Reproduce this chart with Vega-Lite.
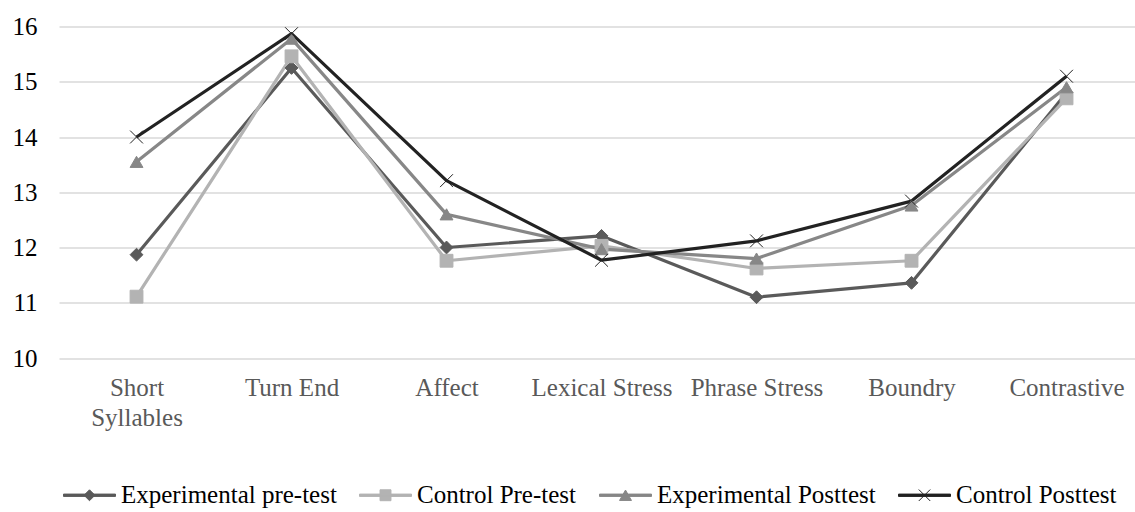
{
  "$schema": "https://vega.github.io/schema/vega-lite/v6.json",
  "width": 1076,
  "height": 331.5,
  "autosize": {"type": "none"},
  "padding": {"left": 59, "top": 26.5, "right": 0, "bottom": 154},
  "background": "white",
  "config": {"view": {"stroke": null}},
  "data": {"values": [
    {"cat": "Short Syllables", "idx": 1, "series": "Experimental pre-test", "v": 11.87},
    {"cat": "Turn End", "idx": 2, "series": "Experimental pre-test", "v": 15.25},
    {"cat": "Affect", "idx": 3, "series": "Experimental pre-test", "v": 12.0},
    {"cat": "Lexical Stress", "idx": 4, "series": "Experimental pre-test", "v": 12.21},
    {"cat": "Phrase Stress", "idx": 5, "series": "Experimental pre-test", "v": 11.1},
    {"cat": "Boundry", "idx": 6, "series": "Experimental pre-test", "v": 11.36},
    {"cat": "Contrastive", "idx": 7, "series": "Experimental pre-test", "v": 14.8},
    {"cat": "Short Syllables", "idx": 1, "series": "Control Pre-test", "v": 11.11},
    {"cat": "Turn End", "idx": 2, "series": "Control Pre-test", "v": 15.46},
    {"cat": "Affect", "idx": 3, "series": "Control Pre-test", "v": 11.76},
    {"cat": "Lexical Stress", "idx": 4, "series": "Control Pre-test", "v": 12.03},
    {"cat": "Phrase Stress", "idx": 5, "series": "Control Pre-test", "v": 11.62},
    {"cat": "Boundry", "idx": 6, "series": "Control Pre-test", "v": 11.76},
    {"cat": "Contrastive", "idx": 7, "series": "Control Pre-test", "v": 14.7},
    {"cat": "Short Syllables", "idx": 1, "series": "Experimental Posttest", "v": 13.55},
    {"cat": "Turn End", "idx": 2, "series": "Experimental Posttest", "v": 15.78},
    {"cat": "Affect", "idx": 3, "series": "Experimental Posttest", "v": 12.6},
    {"cat": "Lexical Stress", "idx": 4, "series": "Experimental Posttest", "v": 11.97},
    {"cat": "Phrase Stress", "idx": 5, "series": "Experimental Posttest", "v": 11.8},
    {"cat": "Boundry", "idx": 6, "series": "Experimental Posttest", "v": 12.76},
    {"cat": "Contrastive", "idx": 7, "series": "Experimental Posttest", "v": 14.9},
    {"cat": "Short Syllables", "idx": 1, "series": "Control Posttest", "v": 14.0},
    {"cat": "Turn End", "idx": 2, "series": "Control Posttest", "v": 15.87},
    {"cat": "Affect", "idx": 3, "series": "Control Posttest", "v": 13.21},
    {"cat": "Lexical Stress", "idx": 4, "series": "Control Posttest", "v": 11.77},
    {"cat": "Phrase Stress", "idx": 5, "series": "Control Posttest", "v": 12.12},
    {"cat": "Boundry", "idx": 6, "series": "Control Posttest", "v": 12.84},
    {"cat": "Contrastive", "idx": 7, "series": "Control Posttest", "v": 15.1}
  ]},
  "encoding": {
    "x": {
      "field": "cat", "type": "nominal",
      "scale": {"type": "point", "domain": ["Short Syllables", "Turn End", "Affect", "Lexical Stress", "Phrase Stress", "Boundry", "Contrastive"], "padding": 0.471, "align": 0.531},
      "axis": {
        "title": null, "domain": false, "ticks": false, "grid": false, "labelAngle": 0,
        "labelFont": "Liberation Serif", "labelFontSize": 25, "labelColor": "#595959",
        "labelPadding": 17, "labelLineHeight": 30, "labelLimit": 300,
        "labelExpr": "datum.label == 'Short Syllables' ? ['Short', 'Syllables'] : datum.label"
      }
    },
    "y": {
      "field": "v", "type": "quantitative",
      "scale": {"domain": [10, 16], "nice": false, "zero": false},
      "axis": {
        "title": null, "domain": false, "ticks": false, "values": [10, 11, 12, 13, 14, 15, 16],
        "grid": true, "gridColor": "#D9D9D9", "gridWidth": 1.5,
        "labelFont": "Liberation Serif", "labelFontSize": 25, "labelColor": "#000000",
        "labelPadding": 22
      }
    }
  },
  "resolve": {"scale": {"color": "independent", "stroke": "independent", "shape": "independent"}},
  "layer": [
    {
      "mark": {"type": "line", "strokeWidth": 3.2, "strokeJoin": "round"},
      "encoding": {
        "color": {
          "field": "series", "type": "nominal", "legend": null,
          "scale": {"domain": ["Experimental pre-test", "Control Pre-test", "Experimental Posttest", "Control Posttest"], "range": ["#5A5A5A", "#B3B3B3", "#878787", "#222222"]}
        },
        "order": {"field": "idx", "type": "quantitative"}
      }
    },
    {
      "mark": {"type": "point", "filled": true, "opacity": 1, "strokeWidth": 1, "size": 165},
      "encoding": {
        "color": {
          "field": "series", "type": "nominal", "legend": null,
          "scale": {"domain": ["Experimental pre-test", "Control Pre-test", "Experimental Posttest", "Control Posttest"], "range": ["#5A5A5A", "#B3B3B3", "#878787", "#222222"]}
        },
        "stroke": {
          "field": "series", "type": "nominal", "legend": null,
          "scale": {"domain": ["Experimental pre-test", "Control Pre-test", "Experimental Posttest", "Control Posttest"], "range": ["#5A5A5A", "#B3B3B3", "#878787", "#222222"]}
        },
        "shape": {
          "field": "series", "type": "nominal", "legend": null,
          "scale": {"domain": ["Experimental pre-test", "Control Pre-test", "Experimental Posttest", "Control Posttest"], "range": ["diamond", "square", "triangle-up", "M-1,-1L1,1M-1,1L1,-1"]}
        }
      }
    },
    {
      "mark": {"type": "point", "filled": true, "opacity": 1, "strokeWidth": 1, "size": 0},
      "encoding": {
        "color": {
          "field": "series", "type": "nominal",
          "scale": {"domain": ["Experimental pre-test", "Control Pre-test", "Experimental Posttest", "Control Posttest"], "range": ["#5A5A5A", "#B3B3B3", "#878787", "#222222"]},
          "legend": {
            "title": null, "orient": "none", "legendX": 4, "legendY": 442, "direction": "horizontal", "columns": 4,
            "labelFont": "Liberation Serif", "labelFontSize": 25, "labelColor": "#000000", "labelOffset": 5, "labelLimit": 400,
            "symbolSize": 2704, "symbolStrokeWidth": 1, "symbolOpacity": 1, "columnPadding": 20, "padding": 0
          }
        },
        "stroke": {
          "field": "series", "type": "nominal",
          "scale": {"domain": ["Experimental pre-test", "Control Pre-test", "Experimental Posttest", "Control Posttest"], "range": ["#5A5A5A", "#B3B3B3", "#878787", "#222222"]}
        },
        "shape": {
          "field": "series", "type": "nominal",
          "scale": {"domain": ["Experimental pre-test", "Control Pre-test", "Experimental Posttest", "Control Posttest"], "range": [
            "M-1,-0.045H1V0.045H-1Z M0,-0.21L0.21,0L0,0.21L-0.21,0Z",
            "M-1,-0.045H1V0.045H-1Z M-0.21,-0.21H0.21V0.21H-0.21Z",
            "M-1,-0.045H1V0.045H-1Z M0,-0.2L0.23,0.2H-0.23Z",
            "M-1,-0.045H1V0.045H-1Z M-0.22,-0.22L0.22,0.22M-0.22,0.22L0.22,-0.22"
          ]}
        }
      }
    }
  ]
}
